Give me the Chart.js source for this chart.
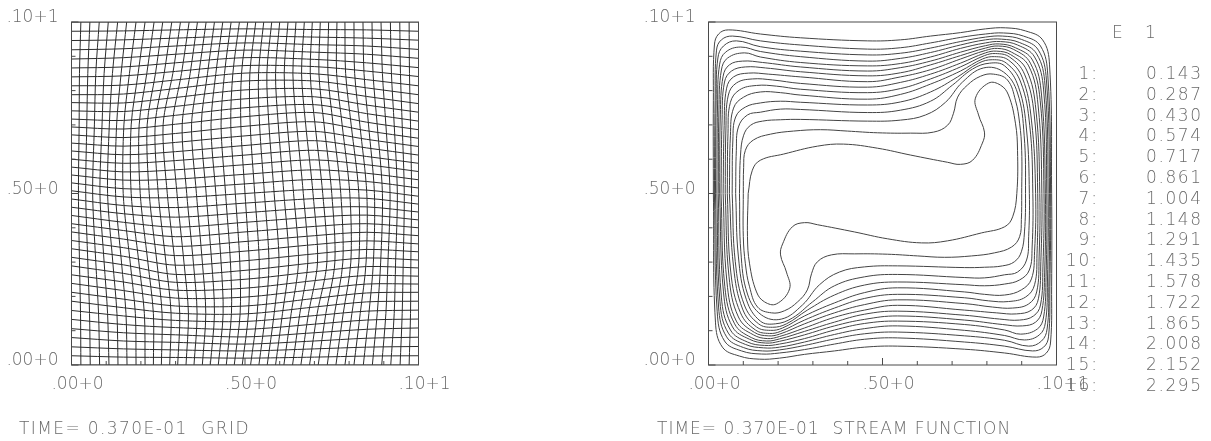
<!DOCTYPE html>
<html>
<head>
<meta charset="utf-8">
<title>Grid and stream function</title>
<script src="https://cdn.jsdelivr.net/npm/chart.js@4"></script>
<style>
  html, body { margin: 0; padding: 0; background: #fff; }
  #page { position: relative; width: 1211px; height: 441px; overflow: hidden; }
  canvas { position: absolute; top: 0; }
  .txt {
    position: absolute; white-space: pre; color: #6a6a6a;
    font: 200 17px "DejaVu Sans", sans-serif; line-height: 18px;
  }
</style>
</head>
<body>
<div id="page">
  <canvas id="gridChart" style="left:0"></canvas>
  <canvas id="streamChart" style="left:640px"></canvas>
</div>
<script>
const tickValues = [0, 0.1, 0.2, 0.3, 0.4, 0.5, 0.6, 0.7, 0.8, 0.9, 1];
const tickLabels = ['.00+0', '.50+0', '.10+1'];
const gridCaption = 'TIME= 0.370E-01  GRID';
const streamCaption = 'TIME= 0.370E-01  STREAM FUNCTION';
const legendHeader = ['E', '1'];
const legendIndex = ['1:', '2:', '3:', '4:', '5:', '6:', '7:', '8:', '9:', '10:', '11:', '12:', '13:', '14:', '15:', '16:'];
const contourLevels = ['0.143', '0.287', '0.430', '0.574', '0.717', '0.861', '1.004', '1.148', '1.291', '1.435', '1.578', '1.722', '1.865', '2.008', '2.152', '2.295'];

// mesh lines, read at these stations along each line (values in 1/1000 of the axis)
const gridStations = [0, 0.15, 0.3, 0.5, 0.7, 0.85, 1];
const gridRows = [
  [0,0,0,0,0,0,0],
  [27,23,22,20,23,26,27],
  [53,47,44,41,47,52,54],
  [80,70,66,61,70,78,81],
  [106,94,88,82,94,104,108],
  [133,118,109,104,119,131,134],
  [159,143,130,127,144,157,160],
  [186,167,151,149,169,184,186],
  [212,192,172,172,194,210,212],
  [238,217,195,198,220,236,236],
  [263,242,218,224,246,261,259],
  [289,267,241,250,272,287,283],
  [314,292,264,276,298,312,306],
  [339,317,291,304,324,337,330],
  [363,342,319,332,351,362,353],
  [388,367,346,360,377,387,377],
  [412,392,374,388,404,412,400],
  [436,416,402,416,431,437,423],
  [460,441,431,444,458,461,446],
  [484,465,459,472,485,486,469],
  [508,490,488,500,512,510,492],
  [531,514,515,528,541,535,516],
  [554,539,542,556,569,559,540],
  [577,563,569,584,598,584,564],
  [600,588,596,612,626,608,588],
  [624,613,622,640,654,633,612],
  [647,638,649,668,681,658,637],
  [671,663,675,696,709,683,661],
  [694,688,702,724,736,708,686],
  [717,713,728,750,759,733,711],
  [741,739,754,776,782,758,737],
  [765,764,780,802,805,783,762],
  [788,790,806,828,828,808,788],
  [814,816,831,851,849,832,814],
  [840,843,856,873,870,857,841],
  [866,869,881,896,891,881,867],
  [892,896,906,918,912,906,894],
  [919,922,930,939,934,930,920],
  [946,948,953,959,956,953,947],
  [973,974,977,980,978,977,973],
  [1000,1000,1000,1000,1000,1000,1000]
];
const gridCols = [
  [0,0,0,0,0,0,0],
  [27,26,23,20,22,23,27],
  [54,52,47,41,44,47,53],
  [81,78,70,61,66,70,80],
  [108,104,94,82,88,94,106],
  [134,131,119,104,109,118,133],
  [160,157,144,127,130,143,159],
  [186,184,169,149,151,167,186],
  [212,210,194,172,172,192,212],
  [236,236,220,198,195,217,238],
  [259,261,246,224,218,242,263],
  [283,287,272,250,241,267,289],
  [306,312,298,276,264,292,314],
  [330,337,324,304,291,317,339],
  [353,362,351,332,319,342,363],
  [377,387,377,360,346,367,388],
  [400,412,404,388,374,392,412],
  [423,437,431,416,402,416,436],
  [446,461,458,444,431,441,460],
  [469,486,485,472,459,465,484],
  [492,510,512,500,488,490,508],
  [516,535,541,528,515,514,531],
  [540,559,569,556,542,539,554],
  [564,584,598,584,569,563,577],
  [588,608,626,612,596,588,600],
  [612,633,654,640,622,613,624],
  [637,658,681,668,649,638,647],
  [661,683,709,696,675,663,671],
  [686,708,736,724,702,688,694],
  [711,733,759,750,728,713,717],
  [737,758,782,776,754,739,741],
  [762,783,805,802,780,764,765],
  [788,808,828,828,806,790,788],
  [814,832,849,851,831,816,814],
  [841,857,870,873,856,843,840],
  [867,881,891,896,881,869,866],
  [894,906,912,918,906,896,892],
  [920,930,934,939,930,922,919],
  [947,953,956,959,953,948,946],
  [973,977,978,980,977,974,973],
  [1000,1000,1000,1000,1000,1000,1000]
];

// stream function contours, level 1 (outer) to 16 (inner), 1/1000 of the axis
const contourX = [
  [14,14,17,29,57,149,264,457,552,638,724,796,854,911,960,980, 986,986,983,971,943,851,736,543,448,362,276,204,146,89,40,20],
  [17,19,23,37,69,149,264,457,552,638,724,796,848,905,954,975, 983,981,977,963,931,851,736,543,448,362,276,204,152,95,46,25],
  [20,22,27,43,80,149,264,457,552,638,724,796,845,900,948,971, 980,978,973,957,920,851,736,543,448,362,276,204,155,100,52,29],
  [24,26,32,49,92,149,264,457,552,638,724,796,842,894,943,967, 976,974,968,951,908,851,736,543,448,362,276,204,158,106,57,33],
  [28,30,37,55,103,149,264,457,552,638,724,796,839,888,937,963, 972,970,963,945,897,851,736,543,448,362,276,204,161,112,63,37],
  [32,34,42,60,98,155,264,457,552,638,724,796,836,882,931,957, 968,966,958,940,902,845,736,543,448,362,276,204,164,118,69,43],
  [36,39,46,66,106,164,264,457,552,638,724,796,833,877,925,953, 964,961,954,934,894,836,736,543,448,362,276,204,167,123,75,47],
  [42,45,52,72,115,172,264,457,552,638,724,796,831,871,920,947, 958,955,948,928,885,828,736,543,448,362,276,204,169,129,80,53],
  [48,50,57,80,126,184,264,457,552,638,724,796,828,868,914,941, 952,950,943,920,874,816,736,543,448,362,276,204,172,132,86,59],
  [54,56,63,89,138,195,264,457,552,638,724,793,825,865,908,936, 946,944,937,911,862,805,736,543,448,362,276,207,175,135,92,64],
  [60,63,72,101,149,207,264,457,552,638,724,787,822,862,902,928, 940,937,928,899,851,793,736,543,448,362,276,213,178,138,98,72],
  [68,70,78,106,149,207,264,457,552,638,716,776,816,856,897,923, 932,930,922,894,851,793,736,543,448,362,284,224,184,144,103,77],
  [78,80,86,112,149,207,264,457,552,638,701,759,808,851,891,914, 922,920,914,888,851,793,736,543,448,362,299,241,192,149,109,86],
  [89,92,101,121,155,207,264,457,552,624,681,730,790,848,888,907, 911,908,899,879,845,793,736,543,448,376,319,270,210,152,112,93],
  [100,101,106,129,178,244,322,399,486,581,647,687,704,716,744,782,819,859,882,894,900, 900,899,894,871,822,756,678,601,514,419,353,313,296,284,256,218,181,141,118,106,100],
  [114,126,149,216,313,388,486,581,687,724,759,787,793,776,767,805,839,862,882,888, 886,874,851,784,687,612,514,419,313,276,241,213,207,224,233,195,161,138,118,112]
];
const contourY = [
  [500,772,933,965,977,965,954,945,948,959,969,980,983,974,948,875, 500,228,67,35,23,35,46,55,52,41,31,20,17,26,52,125],
  [500,772,918,948,959,945,933,921,925,939,955,965,968,959,930,845, 500,228,82,52,41,55,67,79,75,61,45,35,32,41,70,155],
  [500,772,895,930,945,928,915,904,909,924,943,956,959,949,918,831, 500,228,105,70,55,72,85,96,91,76,57,44,41,51,82,169],
  [500,758,877,912,927,914,899,886,894,911,933,948,950,940,907,816, 500,242,123,88,73,86,101,114,106,89,67,52,50,60,93,184],
  [500,743,860,895,910,898,882,872,879,898,923,939,943,933,898,802, 500,257,140,105,90,102,118,128,121,102,77,61,57,67,102,198],
  [500,729,842,875,886,882,869,857,867,886,912,931,936,925,889,787, 500,271,158,125,114,118,131,143,133,114,88,69,64,75,111,213],
  [500,714,825,857,869,866,855,843,852,875,902,924,930,920,880,772, 500,286,175,143,131,134,145,157,148,125,98,76,70,80,120,228],
  [500,699,807,840,851,848,840,826,840,861,892,917,923,912,872,758, 500,301,193,160,149,152,160,174,160,139,108,83,77,88,128,242],
  [500,685,787,822,834,831,821,810,824,848,880,910,915,905,860,743, 500,315,213,178,166,169,179,190,176,152,120,90,85,95,140,257],
  [500,676,766,802,815,813,804,794,806,834,869,902,908,898,848,729, 500,324,234,198,185,187,196,206,194,166,131,98,92,102,152,271],
  [500,670,749,781,796,794,787,775,789,819,857,892,899,889,837,714, 500,330,251,219,204,206,213,225,211,181,143,108,101,111,163,286],
  [500,656,723,752,764,769,766,758,767,796,840,880,890,880,825,699, 500,344,277,248,236,231,234,242,233,204,160,120,110,120,175,301],
  [500,626,694,729,737,746,745,736,743,769,816,863,880,872,810,685, 500,374,306,271,263,254,255,264,257,231,184,137,120,128,190,315],
  [500,612,670,699,711,715,716,711,714,729,766,825,866,854,793,670, 500,388,330,301,289,285,284,289,286,271,234,175,134,146,207,330],
  [500,576,626,656,673,682,686,682,677,676,679,699,734,781,816,842,848,831,772,705,626, 500,424,374,344,327,318,314,318,323,324,321,301,266,219,184,158,152,169,228,295,374],
  [500,568,597,615,638,644,632,612,591,585,597,647,679,729,778,822,816,787,705,626, 500,432,403,385,362,356,368,388,409,415,403,353,321,271,222,178,184,213,295,374]
];

const meshColor = '#2c2c2c';
const contourColor = '#444444';
const labelColor = '#6a6a6a';

// frame and inward tick marks, the axes in the picture tick towards the inside
const frameTicks = {
  id: 'frameTicks',
  afterDatasetsDraw(chart) {
    const { ctx, chartArea: a, scales } = chart;
    ctx.save();
    ctx.strokeStyle = '#4a4a4a';
    ctx.lineWidth = 1;
    ctx.strokeRect(a.left, a.top, a.right - a.left, a.bottom - a.top);
    ctx.beginPath();
    tickValues.forEach((v, i) => {
      const len = i % 5 === 0 ? 7 : 4;
      const px = scales.x.getPixelForValue(v);
      const py = scales.y.getPixelForValue(v);
      ctx.moveTo(px, a.bottom);
      ctx.lineTo(px, a.bottom - len);
      ctx.moveTo(a.left, py);
      ctx.lineTo(a.left + len, py);
    });
    ctx.stroke();
    ctx.restore();
  }
};

function axisOptions(axis, fitSize, padding, offset) {
  return {
    type: 'linear',
    min: 0,
    max: 1,
    grid: { display: false },
    border: { display: false },
    afterBuildTicks(scale) {
      scale.ticks = tickValues.map(v => ({ value: v }));
    },
    afterFit(scale) {
      if (axis === 'x') scale.height = fitSize;
      else scale.width = fitSize;
    },
    ticks: {
      autoSkip: false,
      maxRotation: 0,
      padding: padding,
      labelOffset: offset,
      color: labelColor,
      font: { family: '"DejaVu Sans"', size: 17, weight: '200' },
      callback(value, index) {
        return index % 5 === 0 ? tickLabels[index / 5] : '';
      }
    }
  };
}

function makeChart(id, width, leftEdge, rightEdge, datasets) {
  const canvas = document.getElementById(id);
  canvas.width = width;
  canvas.height = 441;
  return new Chart(canvas.getContext('2d'), {
    type: 'scatter',
    data: { datasets: datasets },
    options: {
      responsive: false,
      animation: false,
      events: [],
      layout: { padding: { left: 0, top: 22, right: width - rightEdge, bottom: 36 } },
      scales: {
        x: axisOptions('x', 40, 1, 6),
        y: axisOptions('y', leftEdge, 5, -4)
      },
      plugins: { legend: { display: false }, tooltip: { enabled: false }, title: { display: false } }
    },
    plugins: [frameTicks]
  });
}

function lineDataset(points, tension, color) {
  return {
    data: points,
    showLine: true,
    pointRadius: 0,
    borderColor: color,
    borderWidth: 1,
    tension: tension
  };
}

const gridDatasets = [];
gridRows.forEach(row => {
  gridDatasets.push(lineDataset(gridStations.map((x, s) => ({ x: x, y: row[s] / 1000 })), 0.3, meshColor));
});
gridCols.forEach(col => {
  gridDatasets.push(lineDataset(gridStations.map((y, s) => ({ x: col[s] / 1000, y: y })), 0.3, meshColor));
});

const streamDatasets = contourX.map((xs, c) => {
  const pts = xs.map((x, p) => ({ x: x / 1000, y: contourY[c][p] / 1000 }));
  pts.push(pts[0]);
  return lineDataset(pts, 0.4, contourColor);
});

makeChart('gridChart', 600, 71.5, 418.5, gridDatasets);
makeChart('streamChart', 571, 68.5, 416.5, streamDatasets);

function addText(text, x, centerY, alignRight, spacing) {
  const el = document.createElement('div');
  el.className = 'txt';
  el.textContent = text;
  el.style.top = (centerY - 9) + 'px';
  if (alignRight) el.style.right = (1211 - x) + 'px';
  else el.style.left = x + 'px';
  if (spacing) el.style.letterSpacing = spacing + 'px';
  document.getElementById('page').appendChild(el);
}

addText(gridCaption, 19, 428, false, 1.4);
addText(streamCaption, 657, 428, false, 1);
addText(legendHeader[0], 1112, 32, false);
addText(legendHeader[1], 1145, 32, false);
legendIndex.forEach((label, i) => {
  addText(label, 1099, 73 + i * 20.8, true, 2);
  addText(contourLevels[i], 1146, 73 + i * 20.8, false, 1.6);
});
</script>
</body>
</html>
